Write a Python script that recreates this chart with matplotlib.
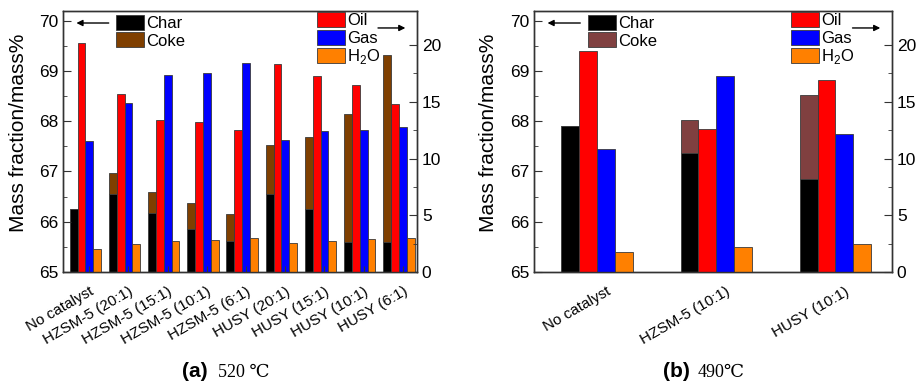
import numpy as np
import matplotlib.pyplot as plt
from matplotlib.patches import Patch
from matplotlib.transforms import ScaledTranslation

plt.rcParams['font.family'] = ['Liberation Sans', 'DejaVu Sans']

# (a) 520 C
cat_a = ['No catalyst', 'HZSM-5 (20:1)', 'HZSM-5 (15:1)', 'HZSM-5 (10:1)', 'HZSM-5 (6:1)',
         'HUSY (20:1)', 'HUSY (15:1)', 'HUSY (10:1)', 'HUSY (6:1)']
char_a = [66.25, 66.55, 66.18, 65.86, 65.62, 66.56, 66.26, 65.60, 65.59]
coke_a = [0.0, 0.42, 0.41, 0.51, 0.53, 0.96, 1.42, 2.55, 3.72]
oil_a = [20.2, 15.65, 13.38, 13.26, 12.5, 18.29, 17.24, 16.44, 14.82]
gas_a = [11.53, 14.85, 17.35, 17.53, 18.38, 11.62, 12.41, 12.47, 12.82]
h2o_a = [2.06, 2.5, 2.7, 2.85, 2.97, 2.59, 2.7, 2.91, 3.03]

# (b) 490 C
cat_b = ['No catalyst', 'HZSM-5 (10:1)', 'HUSY (10:1)']
char_b = [67.90, 67.36, 66.85]
coke_b = [0.0, 0.67, 1.67]
oil_b = [19.5, 12.59, 16.91]
gas_b = [10.82, 17.24, 12.12]
h2o_b = [1.76, 2.18, 2.47]

ec = '#3a3a3a'
spc = '#333333'


def panel(ax, cats, char, coke, oil, gas, h2o, w, xlim, coke_col, tick_len, lab_dx):
    x = np.arange(len(cats))
    ax2 = ax.twinx()
    ax.bar(x - 1.5*w, char, w, color='black', edgecolor=ec, lw=0.6)
    ax.bar(x - 1.5*w, coke, w, bottom=char, color=coke_col, edgecolor=ec, lw=0.6)
    ax2.bar(x - 0.5*w, oil, w, color='#ff0000', edgecolor=ec, lw=0.6)
    ax2.bar(x + 0.5*w, gas, w, color='#0000ff', edgecolor=ec, lw=0.6)
    ax2.bar(x + 1.5*w, h2o, w, color='#ff8000', edgecolor=ec, lw=0.6)

    ax.set_xlim(*xlim)
    ax.set_ylim(65, 70.19)
    ax2.set_ylim(0, 23)
    ax.set_yticks(np.arange(65, 70.1, 1))
    ax.set_yticks(np.arange(65, 70.1, 0.5), minor=True)
    ax2.set_yticks(np.arange(0, 21, 5))
    ax2.set_yticks(np.arange(0, 21, 2.5), minor=True)
    ax.set_xticks(x + 0.5*w)
    ax.set_xticklabels(cats, rotation=30, ha='right', rotation_mode='anchor', fontsize=11)
    for lab in ax.get_xticklabels():
        lab.set_transform(lab.get_transform() + ScaledTranslation(lab_dx/72, 0, ax.figure.dpi_scale_trans))

    ax.tick_params(axis='y', which='major', direction='in', length=6, labelsize=12.5, color=spc)
    ax.tick_params(axis='y', which='minor', direction='in', length=3, color=spc)
    ax.tick_params(axis='x', length=0, pad=9)
    ax2.tick_params(axis='y', which='major', direction='in', length=6, labelsize=12.5, color=spc)
    ax2.tick_params(axis='y', which='minor', direction='in', length=3, color=spc)
    ax2.xaxis.set_visible(True)
    ax2.tick_params(axis='x', direction='in', length=tick_len, labelbottom=False, color=spc)
    for a in (ax, ax2):
        for s in a.spines.values():
            s.set_color(spc)
            s.set_linewidth(1)

    ax.set_ylabel('Mass fraction/mass%', fontsize=15)
    ax.yaxis.set_label_coords(-0.1, 0.533)

    leg_kw = dict(loc='upper left', frameon=False, borderpad=0, borderaxespad=0, fontsize=12,
                  handlelength=1.7, handleheight=1.0, labelspacing=0.08, handletextpad=0.12)
    leg1 = ax2.legend(handles=[Patch(fc='black', ec=ec, lw=0.6, label='Char'),
                               Patch(fc=coke_col, ec=ec, lw=0.6, label='Coke')],
                      bbox_to_anchor=(0.15, 0.985), **leg_kw)
    ax2.add_artist(leg1)
    ax2.legend(handles=[Patch(fc='#ff0000', ec=ec, lw=0.6, label='Oil'),
                        Patch(fc='#0000ff', ec=ec, lw=0.6, label='Gas'),
                        Patch(fc='#ff8000', ec=ec, lw=0.6, label='H$_\\mathregular{2}$O')],
               bbox_to_anchor=(0.717, 0.995), **leg_kw)

    ax.annotate('', xy=(0.03, 0.954), xytext=(0.137, 0.954), xycoords='axes fraction',
                arrowprops=dict(arrowstyle='-|>', color='black', lw=1, mutation_scale=9))
    ax.annotate('', xy=(0.975, 0.935), xytext=(0.882, 0.935), xycoords='axes fraction',
                arrowprops=dict(arrowstyle='-|>', color='black', lw=1, mutation_scale=9))
    return ax2


fig = plt.figure(figsize=(9.18, 3.83), dpi=100)
axa = fig.add_axes([63/918, 1 - 272/383, 354/918, 261/383])
axb = fig.add_axes([534/918, 1 - 272/383, 358/918, 261/383])

panel(axa, cat_a, char_a, coke_a, oil_a, gas_a, h2o_a, 0.2, (-0.57, 8.46), '#7f3f00', 4, 5)
panel(axb, cat_b, char_b, coke_b, oil_b, gas_b, h2o_b, 0.15, (-0.53, 2.475), '#804040', 0, 8)

fig.text(208/918, 1 - 377/383, '(a)', fontsize=15, fontweight='bold', ha='right', va='baseline')
fig.text(218/918, 1 - 377/383, '520 \u2103', fontsize=13, ha='left', va='baseline',
         family=['Liberation Serif', 'DejaVu Serif'])
fig.text(690/918, 1 - 377/383, '(b)', fontsize=15, fontweight='bold', ha='right', va='baseline')
fig.text(698/918, 1 - 377/383, '490\u2103', fontsize=13, ha='left', va='baseline',
         family=['Liberation Serif', 'DejaVu Serif'])

fig.savefig('out.png', dpi=100)
